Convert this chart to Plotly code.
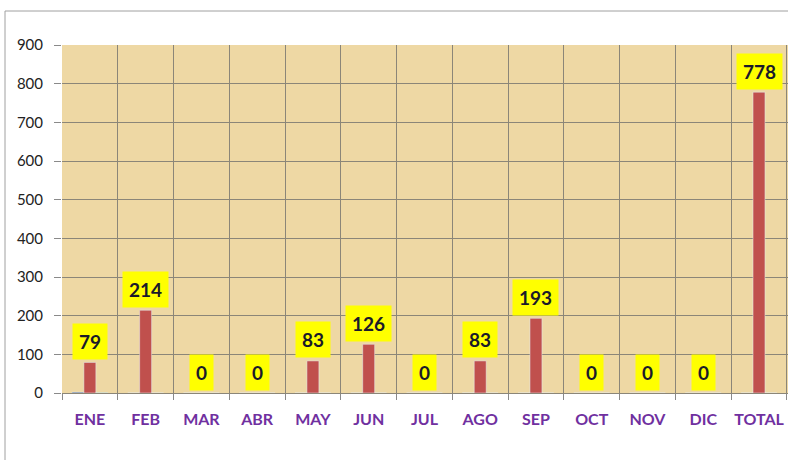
import plotly.graph_objects as go

categories = ["ENE", "FEB", "MAR", "ABR", "MAY", "JUN", "JUL", "AGO", "SEP", "OCT", "NOV", "DIC", "TOTAL"]
values_main = [79, 214, 0, 0, 83, 126, 0, 83, 193, 0, 0, 0, 778]
values_left = [2, 0, 0, 0, 0, 0, 0, 0, 0, 0, 0, 0, 0]
values_right = [1, 0, 0, 0, 0, 0, 0, 0, 0, 0, 0, 0, 0]
y_ticks = [0, 100, 200, 300, 400, 500, 600, 700, 800, 900]

fig = go.Figure()
fig.add_trace(go.Bar(x=categories, y=values_left, marker_color="#2f4f7f", showlegend=False))
fig.add_trace(go.Bar(x=categories, y=values_main, marker_color="#c0504d", showlegend=False))
fig.add_trace(go.Bar(x=categories, y=values_right, marker_color="#8fae5a", showlegend=False))

for c, v in zip(categories, values_main):
    fig.add_annotation(
        x=c, y=v, xref="x", yref="y",
        text=f"<b>{v}</b>", showarrow=False,
        yanchor="middle", yshift=21,
        bgcolor="#ffff00", borderpad=6,
        font=dict(family="Lato, Open Sans, sans-serif", size=19, color="#1a1a2a"),
    )

# outer chart border
fig.add_shape(type="rect", xref="paper", yref="paper",
              x0=-0.0785, x1=1.2, y0=-0.4, y1=1.0977,
              line=dict(color="#a0a0a0", width=1), fillcolor="rgba(0,0,0,0)", layer="below")

fig.update_layout(
    width=788, height=460,
    margin=dict(l=62, r=0, t=45, b=67, autoexpand=False),
    paper_bgcolor="white",
    plot_bgcolor="#eed8a4",
    barmode="group", bargap=0.357, bargroupgap=0,
    font=dict(family="Lato, Open Sans, sans-serif"),
)
fig.update_xaxes(
    type="category", range=[-0.5, 12.52], automargin=False, tickangle=0,
    tickson="boundaries", ticks="outside", ticklen=6, tickcolor="#8a8a8a",
    showgrid=True, gridcolor="#8b8678", gridwidth=1,
    showline=False, zeroline=False, ticklabelstandoff=15,
    tickfont=dict(family="Lato, Open Sans, sans-serif", size=16, color="#7030a0", weight="bold"),
)
fig.update_yaxes(
    range=[0, 900], tickvals=y_ticks, automargin=False,
    ticks="outside", ticklen=7, tickcolor="#8a8a8a",
    showgrid=True, gridcolor="#8b8678", gridwidth=1,
    zeroline=True, zerolinecolor="#8b8678", zerolinewidth=1,
    showline=False, ticklabelstandoff=8,
    tickfont=dict(family="Lato, Open Sans, sans-serif", size=15, color="#222222"),
)

fig.write_html(
    "out.html",
    config={"displayModeBar": False},
    post_script="document.body.style.margin='0';document.body.style.overflow='hidden';",
)
